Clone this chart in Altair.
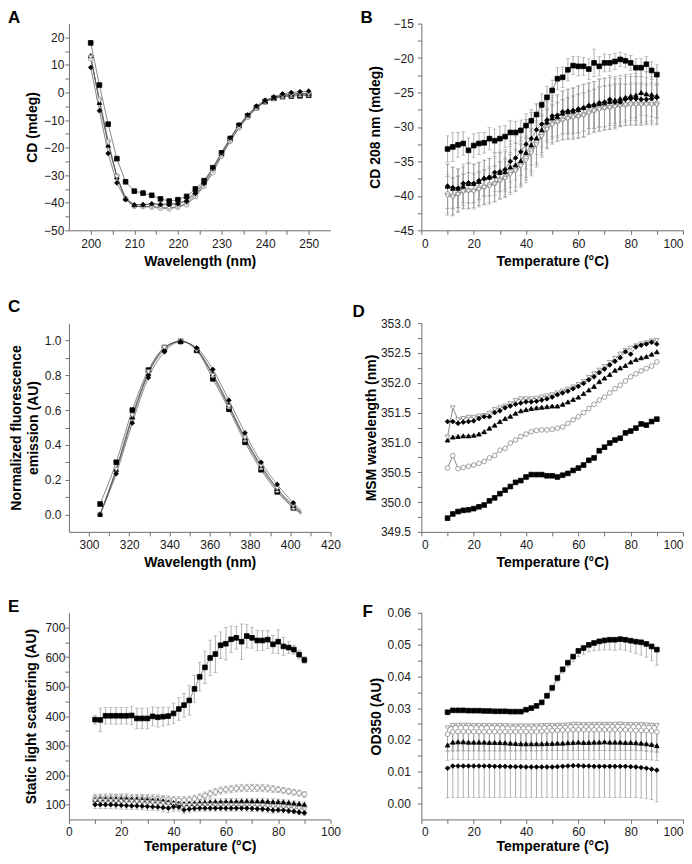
import altair as alt
import pandas as pd

FONT = "Liberation Sans"

SERIES = ["sq", "ci", "tu", "td", "di"]
SHAPES = ["square", "circle", "triangle-up", "triangle-down", "diamond"]
FILLS = ["#000000", "#ffffff", "#000000", "#ffffff", "#000000"]
STROKES = ["#000000", "#8a8a8a", "#000000", "#8a8a8a", "#000000"]
SIZES = [22, 22, 28, 28, 30]

# ---------------- Panel A : CD spectra ----------------
A_WL = [200, 202, 204, 206, 208, 210, 212, 214, 216, 218, 220, 222, 224,
        226, 228, 230, 232, 234, 236, 238, 240, 242, 244, 246, 248, 250]
A_sq = [18.0, 2.7, -11.5, -24.0, -32.4, -35.8, -36.5, -37.3, -38.6, -39.4, -38.9, -37.7, -35.0,
        -32.0, -27.3, -21.9, -16.7, -12.0, -8.5, -5.5, -3.3, -2.1, -1.5, -1.3, -1.2, -1.0]
A_ci = [12.2, -2.4, -17.7, -30.3, -38.6, -41.3, -41.4, -41.6, -42.0, -42.2, -41.6, -40.7, -37.8,
        -34.0, -29.1, -23.1, -17.7, -12.9, -9.0, -5.7, -3.3, -2.1, -1.4, -1.1, -0.8, -0.7]
A_tu = [13.4, -3.6, -19.1, -30.6, -38.3, -40.7, -40.7, -40.4, -40.4, -40.4, -40.2, -39.0, -36.0,
        -32.6, -27.5, -22.2, -16.7, -12.0, -8.2, -5.1, -3.0, -1.8, -0.9, -0.6, -0.3, -0.3]
A_td = [12.8, -3.0, -18.3, -30.6, -38.9, -41.3, -41.3, -41.4, -41.6, -41.9, -41.4, -40.2, -37.4,
        -33.6, -28.5, -22.7, -17.5, -12.7, -8.8, -5.5, -3.1, -1.8, -1.2, -0.8, -0.5, -0.5]
A_di = [9.1, -6.6, -22.1, -32.8, -38.9, -40.8, -40.7, -40.4, -40.7, -40.7, -40.4, -39.5, -36.6,
        -33.0, -27.5, -21.9, -16.5, -11.7, -8.1, -4.9, -2.8, -1.6, -0.5, 0.0, 0.3, 0.5]

# ---------------- Temperature grid (B, D, E, F) ----------------
T = [10, 12, 14, 16, 18, 20, 22, 24, 26, 28, 30, 32, 34, 36, 38, 40, 42, 44, 46, 48, 50,
     52, 54, 56, 58, 60, 62, 64, 66, 68, 70, 72, 74, 76, 78, 80, 82, 84, 86, 88, 90]

# ---------------- Panel B : CD 208 nm ----------------
B_sq = [-33.2, -32.9, -32.6, -32.4, -33.4, -32.7, -32.4, -32.3, -31.7, -32.0,
        -31.7, -31.4, -30.8, -30.8, -30.5, -29.8, -29.1, -28.2, -26.8, -25.7,
        -24.7, -23.0, -22.8, -21.7, -21.1, -21.2, -21.2, -21.6, -20.7, -21.2,
        -20.7, -20.7, -20.5, -20.2, -20.4, -20.7, -21.4, -21.4, -20.9, -21.8, -22.4]
B_ci = [-39.7, -40.0, -39.7, -39.3, -39.2, -39.2, -38.9, -38.7, -38.4, -38.2,
        -37.7, -37.3, -36.6, -36.2, -35.4, -34.5, -33.5, -32.3, -31.1, -30.2,
        -29.5, -29.2, -28.9, -28.7, -28.5, -28.4, -28.2, -27.8, -27.6, -27.3,
        -27.2, -27.1, -26.9, -26.8, -26.8, -26.6, -26.6, -26.6, -26.6, -26.5, -26.6]
B_tu = [-38.6, -38.9, -38.9, -38.6, -38.2, -38.2, -37.9, -37.4, -37.3, -37.1,
        -36.6, -36.5, -35.8, -35.5, -34.9, -33.7, -32.6, -31.6, -30.4, -29.3,
        -28.7, -28.5, -28.0, -27.8, -27.7, -27.5, -27.2, -26.9, -26.8, -26.6,
        -26.5, -26.3, -26.1, -25.9, -25.7, -25.5, -25.4, -25.0, -25.2, -25.3, -25.5]
B_td = [-40.0, -40.2, -39.8, -39.4, -39.3, -39.4, -39.1, -38.8, -38.6, -38.3,
        -37.8, -37.5, -36.9, -36.4, -35.7, -34.9, -33.8, -32.6, -31.4, -30.4,
        -29.7, -29.3, -29.0, -28.8, -28.7, -28.5, -28.3, -28.0, -27.7, -27.5,
        -27.3, -27.2, -27.1, -26.9, -26.8, -26.8, -26.8, -26.8, -26.8, -26.8, -26.8]
B_di = [-38.6, -38.8, -38.9, -38.2, -38.1, -38.2, -37.8, -37.5, -37.3, -36.6,
        -36.5, -36.2, -35.0, -34.5, -33.6, -32.5, -31.7, -30.4, -29.6, -29.0,
        -28.4, -28.3, -27.8, -27.7, -27.6, -27.4, -27.2, -26.9, -26.8, -26.5,
        -26.4, -26.0, -26.4, -26.4, -26.0, -25.9, -25.9, -26.0, -26.0, -25.9, -25.7]
B_err_sq = [1.9, 2.1, 1.8, 1.7, 1.8, 1.7, 1.6, 1.5, 1.6, 1.7,
            1.8, 1.6, 1.7, 1.6, 1.5, 1.7, 1.6, 1.6, 1.6, 1.6,
            1.5, 1.6, 1.5, 1.6, 1.3, 1.4, 1.3, 1.5, 2.0, 1.4,
            1.3, 1.2, 1.2, 1.0, 1.0, 1.1, 1.3, 1.3, 1.1, 1.3, 1.5]
B_err_filled = [3.2, 3.0, 2.8, 2.8, 2.9, 2.8, 2.7, 2.6, 2.7, 2.8,
                2.8, 2.9, 3.0, 3.2, 3.4, 3.6, 3.8, 3.6, 3.3, 3.0,
                3.0, 3.0, 3.1, 3.2, 3.3, 3.4, 3.4, 3.3, 3.4, 3.5,
                3.5, 3.5, 3.4, 3.4, 3.3, 3.2, 3.2, 3.3, 3.2, 3.2, 3.1]
B_err_open = [2.8, 2.7, 2.6, 2.5, 2.6, 2.5, 2.5, 2.5, 2.6, 2.6,
              2.7, 2.8, 2.9, 3.0, 3.1, 3.2, 3.3, 3.2, 3.0, 2.8,
              2.8, 2.8, 2.9, 3.0, 3.1, 3.2, 3.2, 3.1, 3.1, 3.2,
              3.2, 3.2, 3.2, 3.1, 3.0, 3.0, 3.0, 3.0, 2.9, 2.9, 2.9]

# ---------------- Panel C : normalized fluorescence ----------------
C_WL = [305.5, 313.5, 321.5, 329.5, 337.5, 345.5, 353.5, 361.5, 369.5, 377.5, 385.5, 393.5, 401.5]
C_sq = [0.06, 0.30, 0.60, 0.83, 0.96, 0.995, 0.943, 0.78, 0.605, 0.415, 0.257, 0.13, 0.038]
C_ci = [0.0, 0.25, 0.55, 0.81, 0.955, 0.995, 0.95, 0.80, 0.62, 0.43, 0.27, 0.14, 0.04]
C_tu = [0.0, 0.26, 0.56, 0.81, 0.95, 0.996, 0.95, 0.81, 0.63, 0.44, 0.28, 0.15, 0.05]
C_td = [0.0, 0.26, 0.57, 0.82, 0.96, 0.995, 0.945, 0.80, 0.62, 0.44, 0.28, 0.15, 0.05]
C_di = [0.0, 0.234, 0.526, 0.787, 0.935, 0.994, 0.958, 0.834, 0.657, 0.469, 0.30, 0.173, 0.067]
C_END_WL = 405.5
C_END = {"sq": 0.0, "ci": 0.008, "tu": 0.012, "td": 0.012, "di": 0.02}

# ---------------- Panel D : MSM wavelength ----------------
D_sq = [349.73, 349.80, 349.84, 349.86, 349.87, 349.89, 349.92, 349.95, 350.02, 350.07,
        350.14, 350.20, 350.26, 350.33, 350.36, 350.42, 350.46, 350.46, 350.46, 350.44,
        350.44, 350.42, 350.45, 350.48, 350.53, 350.57, 350.62, 350.70, 350.74, 350.86,
        350.92, 350.99, 351.04, 351.07, 351.16, 351.19, 351.24, 351.31, 351.29, 351.35, 351.39]
D_ci = [350.57, 350.78, 350.56, 350.58, 350.60, 350.62, 350.65, 350.68, 350.74, 350.78,
        350.87, 350.90, 350.99, 351.04, 351.10, 351.14, 351.18, 351.20, 351.21, 351.21,
        351.22, 351.24, 351.26, 351.32, 351.38, 351.43, 351.50, 351.57, 351.64, 351.71,
        351.76, 351.83, 351.90, 351.96, 352.03, 352.10, 352.15, 352.20, 352.24, 352.28, 352.35]
D_tu = [351.04, 351.09, 351.10, 351.11, 351.11, 351.12, 351.14, 351.18, 351.24, 351.29,
        351.35, 351.40, 351.44, 351.49, 351.53, 351.55, 351.57, 351.58, 351.59, 351.60,
        351.61, 351.61, 351.64, 351.68, 351.72, 351.76, 351.82, 351.88, 351.94, 352.02,
        352.08, 352.14, 352.21, 352.25, 352.29, 352.35, 352.39, 352.42, 352.44, 352.48, 352.52]
D_td = [351.09, 351.58, 351.38, 351.40, 351.42, 351.42, 351.44, 351.45, 351.49, 351.55,
        351.58, 351.61, 351.65, 351.70, 351.73, 351.73, 351.73, 351.74, 351.76, 351.78,
        351.80, 351.83, 351.86, 351.89, 351.93, 351.97, 352.02, 352.09, 352.15, 352.21,
        352.27, 352.34, 352.41, 352.48, 352.54, 352.58, 352.62, 352.65, 352.67, 352.70, 352.71]
D_di = [351.35, 351.35, 351.32, 351.34, 351.35, 351.36, 351.40, 351.43, 351.43, 351.50,
        351.53, 351.58, 351.61, 351.64, 351.66, 351.68, 351.68, 351.69, 351.71, 351.73,
        351.76, 351.80, 351.83, 351.86, 351.90, 351.94, 351.99, 352.05, 352.10, 352.17,
        352.23, 352.30, 352.36, 352.42, 352.52, 352.48, 352.60, 352.63, 352.65, 352.68, 352.65]

# ---------------- Panel E : static light scattering ----------------
E_sq = [388, 387, 401, 401, 401, 401, 401, 402, 392, 392,
        392, 399, 396, 398, 400, 409, 424, 437, 453, 492,
        533, 565, 597, 610, 640, 645, 660, 665, 652, 671,
        665, 656, 656, 659, 643, 652, 636, 632, 625, 608, 590]
E_ci = [122, 122, 122, 122, 122, 122, 122, 121, 120, 120,
        120, 120, 119, 118, 117, 116, 115, 115, 117, 120,
        125, 131, 137, 143, 148, 151, 153, 155, 156, 157,
        157, 157, 156, 155, 153, 151, 148, 145, 142, 139, 135]
E_tu = [118, 120, 120, 120, 120, 120, 120, 119, 119, 118,
        117, 116, 115, 113, 110, 107, 105, 103, 104, 105,
        107, 108, 109, 110, 110, 111, 111, 111, 112, 112,
        112, 112, 112, 111, 110, 110, 109, 107, 105, 103, 101]
E_td = [113, 113, 112, 112, 112, 111, 111, 110, 110, 109,
        108, 107, 106, 104, 102, 100, 98, 97, 97, 97,
        98, 98, 98, 98, 98, 98, 98, 98, 98, 98,
        97, 97, 96, 95, 94, 93, 92, 91, 89, 87, 85]
E_di = [100, 100, 100, 100, 99, 98, 97, 96, 96, 95,
        94, 93, 92, 90, 88, 93, 92, 82, 85, 87,
        88, 88, 88, 88, 88, 88, 88, 88, 88, 88,
        87, 86, 85, 84, 81, 82, 81, 79, 77, 74, 72]
E_err_sq = [15, 40, 28, 28, 28, 28, 28, 30, 35, 35,
            35, 32, 33, 32, 30, 35, 38, 40, 50, 45,
            48, 55, 60, 62, 45, 55, 45, 38, 60, 40,
            35, 35, 33, 30, 30, 40, 30, 20, 15, 15, 12]
E_err_ci = [14, 14, 14, 14, 14, 14, 14, 14, 14, 14,
            14, 14, 14, 13, 13, 12, 12, 12, 12, 12,
            12, 12, 12, 12, 12, 12, 12, 12, 12, 12,
            12, 12, 12, 12, 12, 10, 10, 10, 10, 10, 10]
E_err_small = [13, 13, 13, 13, 13, 13, 13, 13, 13, 13,
               13, 13, 13, 14, 15, 15, 14, 12, 11, 10,
               10, 10, 10, 10, 10, 10, 10, 10, 10, 10,
               10, 10, 10, 10, 10, 9, 9, 9, 8, 8, 8]

# ---------------- Panel F : OD350 ----------------
F_sq = [0.0287, 0.0293, 0.0293, 0.0293, 0.0292, 0.0292, 0.0292, 0.0291, 0.0291, 0.0290,
        0.0290, 0.0290, 0.0289, 0.0289, 0.0289, 0.0295, 0.0300, 0.0307, 0.0318, 0.0339,
        0.0364, 0.0395, 0.0422, 0.0443, 0.0462, 0.0480, 0.0489, 0.0499, 0.0505, 0.0510,
        0.0513, 0.0515, 0.0515, 0.0517, 0.0515, 0.0512, 0.0509, 0.0507, 0.0502, 0.0494, 0.0484]
F_ci = [0.0218, 0.0225, 0.0226, 0.0226, 0.0226, 0.0226, 0.0226, 0.0226, 0.0226, 0.0226,
        0.0226, 0.0226, 0.0226, 0.0226, 0.0226, 0.0226, 0.0226, 0.0226, 0.0227, 0.0228,
        0.0229, 0.0230, 0.0231, 0.0231, 0.0232, 0.0232, 0.0232, 0.0232, 0.0232, 0.0232,
        0.0232, 0.0232, 0.0232, 0.0232, 0.0232, 0.0231, 0.0230, 0.0230, 0.0229, 0.0228, 0.0225]
F_tu = [0.0184, 0.0193, 0.0194, 0.0194, 0.0193, 0.0193, 0.0193, 0.0193, 0.0192, 0.0192,
        0.0192, 0.0191, 0.0190, 0.0189, 0.0188, 0.0188, 0.0188, 0.0188, 0.0188, 0.0189,
        0.0189, 0.0190, 0.0190, 0.0191, 0.0192, 0.0193, 0.0192, 0.0192, 0.0193, 0.0193,
        0.0194, 0.0193, 0.0193, 0.0193, 0.0192, 0.0192, 0.0191, 0.0190, 0.0188, 0.0186, 0.0182]
F_td = [0.0238, 0.0245, 0.0246, 0.0246, 0.0246, 0.0245, 0.0245, 0.0245, 0.0245, 0.0245,
        0.0245, 0.0245, 0.0244, 0.0244, 0.0244, 0.0244, 0.0244, 0.0244, 0.0245, 0.0245,
        0.0245, 0.0246, 0.0246, 0.0247, 0.0249, 0.0249, 0.0248, 0.0248, 0.0249, 0.0249,
        0.0249, 0.0249, 0.0249, 0.0250, 0.0248, 0.0248, 0.0248, 0.0248, 0.0247, 0.0246, 0.0245]
F_di = [0.0111, 0.0118, 0.0118, 0.0118, 0.0118, 0.0118, 0.0118, 0.0118, 0.0118, 0.0117,
        0.0117, 0.0117, 0.0116, 0.0116, 0.0116, 0.0115, 0.0115, 0.0115, 0.0115, 0.0115,
        0.0115, 0.0116, 0.0117, 0.0118, 0.0119, 0.0119, 0.0118, 0.0118, 0.0117, 0.0117,
        0.0117, 0.0117, 0.0117, 0.0117, 0.0117, 0.0116, 0.0115, 0.0113, 0.0111, 0.0108, 0.0105]
F_err_sq = [0, 0, 0, 0, 0, 0, 0, 0, 0, 0,
            0, 0, 0, 0, 0, 0.0003, 0.0005, 0.0006, 0.0007, 0.0008,
            0.0010, 0.0012, 0.0012, 0.0013, 0.0015, 0.0018, 0.0020, 0.0022, 0.0025, 0.0028,
            0.0030, 0.0032, 0.0033, 0.0033, 0.0033, 0.0035, 0.0037, 0.0040, 0.0042, 0.0045, 0.0049]
F_err_ci = [0.0055, 0.0060, 0.0061, 0.0061, 0.0061, 0.0061, 0.0061, 0.0061, 0.0061, 0.0061,
            0.0061, 0.0061, 0.0061, 0.0061, 0.0061, 0.0061, 0.0061, 0.0061, 0.0061, 0.0062,
            0.0062, 0.0063, 0.0064, 0.0064, 0.0065, 0.0065, 0.0065, 0.0065, 0.0065, 0.0065,
            0.0065, 0.0065, 0.0065, 0.0065, 0.0065, 0.0064, 0.0063, 0.0063, 0.0063, 0.0063, 0.0062]
F_err_tu = [0.0048, 0.0054, 0.0055, 0.0055, 0.0054, 0.0054, 0.0054, 0.0054, 0.0053, 0.0053,
            0.0053, 0.0052, 0.0051, 0.0050, 0.0049, 0.0049, 0.0049, 0.0049, 0.0049, 0.0050,
            0.0050, 0.0051, 0.0051, 0.0052, 0.0053, 0.0054, 0.0053, 0.0053, 0.0054, 0.0054,
            0.0055, 0.0054, 0.0054, 0.0054, 0.0053, 0.0053, 0.0052, 0.0051, 0.0050, 0.0049, 0.0047]
F_err_td = [0.0072, 0.0078, 0.0079, 0.0079, 0.0079, 0.0078, 0.0078, 0.0078, 0.0078, 0.0078,
            0.0078, 0.0078, 0.0077, 0.0077, 0.0077, 0.0077, 0.0077, 0.0077, 0.0078, 0.0078,
            0.0078, 0.0079, 0.0079, 0.0080, 0.0082, 0.0082, 0.0081, 0.0081, 0.0082, 0.0082,
            0.0082, 0.0082, 0.0082, 0.0083, 0.0081, 0.0081, 0.0081, 0.0082, 0.0083, 0.0084, 0.0085]
F_err_di = [0.0093, 0.0099, 0.0099, 0.0099, 0.0099, 0.0099, 0.0099, 0.0099, 0.0099, 0.0098,
            0.0098, 0.0098, 0.0097, 0.0097, 0.0097, 0.0096, 0.0096, 0.0096, 0.0096, 0.0096,
            0.0096, 0.0097, 0.0098, 0.0099, 0.0100, 0.0100, 0.0099, 0.0099, 0.0098, 0.0098,
            0.0098, 0.0098, 0.0098, 0.0098, 0.0098, 0.0097, 0.0096, 0.0096, 0.0096, 0.0096, 0.0100]

# ---------------- tick definitions (major labelled, minor unlabelled) ----------------
TICKS = {
    "A_x": ([200, 210, 220, 230, 240, 250], [205, 215, 225, 235, 245]),
    "A_y": ([-50, -40, -30, -20, -10, 0, 10, 20], [-45, -35, -25, -15, -5, 5, 15]),
    "T_x": ([0, 20, 40, 60, 80, 100], [10, 30, 50, 70, 90]),
    "B_y": ([-45, -40, -35, -30, -25, -20, -15], [-42.5, -37.5, -32.5, -27.5, -22.5, -17.5]),
    "C_x": ([300, 320, 340, 360, 380, 400, 420], [310, 330, 350, 370, 390, 410]),
    "C_y": ([0.0, 0.2, 0.4, 0.6, 0.8, 1.0], [0.1, 0.3, 0.5, 0.7, 0.9]),
    "D_y": ([349.5, 350.0, 350.5, 351.0, 351.5, 352.0, 352.5, 353.0],
            [349.75, 350.25, 350.75, 351.25, 351.75, 352.25, 352.75]),
    "E_y": ([100, 200, 300, 400, 500, 600, 700], [150, 250, 350, 450, 550, 650]),
    "F_y": ([0.0, 0.01, 0.02, 0.03, 0.04, 0.05, 0.06],
            [0.005, 0.015, 0.025, 0.035, 0.045, 0.055]),
}

AXIS_COLOR = "#6e6e6e"
W = 262


def make_axis(title, key, fmt, label_pad, title_pad, line_h=None, flush=False):
    majors, minors = TICKS[key]
    vals = sorted(majors + minors)
    minor_js = "[" + ",".join(repr(v) for v in minors) + "]"
    kw = dict(
        title=title, values=vals, format=fmt,
        labelExpr="indexof(" + minor_js + ", datum.value) >= 0 ? '' : datum.label",
        tickSize=4,
        grid=False, labelOverlap=False, labelFlush=flush,
        domainColor=AXIS_COLOR, tickColor=AXIS_COLOR, domainWidth=1, tickWidth=1,
        labelFont=FONT, labelFontSize=12, labelColor="#1a1a1a", labelPadding=label_pad,
        titleFont=FONT, titleFontSize=14, titleFontWeight="bold", titleColor="#000000",
        titlePadding=title_pad,
    )
    if line_h is not None:
        kw["titleLineHeight"] = line_h
    return alt.Axis(**kw)


def panel(xs, ys, xdom, ydom, xaxis, yaxis, letter, ldx, ldy, height, extent,
          errs=None, err_mode="both", line_end=None, interp="linear"):
    rows = []
    for k, s in enumerate(SERIES):
        for i, (xv, yv) in enumerate(zip(xs, ys[s])):
            r = {"x": xv, "y": yv, "s": s, "k": k}
            if errs is not None:
                e = errs[s][i]
                r["lo"] = yv - e
                r["hi"] = yv + e if err_mode == "both" else yv
            rows.append(r)
    df = pd.DataFrame(rows)

    line_rows = [dict(x=r["x"], y=r["y"], s=r["s"]) for r in rows]
    if line_end is not None:
        ex, ev = line_end
        for s in SERIES:
            line_rows.append(dict(x=ex, y=ev[s], s=s))
    ldf = pd.DataFrame(line_rows)

    xsc = alt.Scale(domain=xdom, nice=False, zero=False, padding=0)
    ysc = alt.Scale(domain=ydom, nice=False, zero=False, padding=0)
    X = alt.X("x:Q", scale=xsc, axis=xaxis)

    layers = []
    layers.append(
        alt.Chart(ldf).mark_line(color="#555555", strokeWidth=0.7, interpolate=interp).encode(
            x=X, y=alt.Y("y:Q", scale=ysc, axis=yaxis), detail="s:N"))
    if errs is not None:
        layers.append(
            alt.Chart(df).mark_rule(color="#9a9a9a", strokeWidth=0.8).encode(
                x=X, y=alt.Y("lo:Q", scale=ysc, axis=yaxis), y2="hi:Q"))
        layers.append(
            alt.Chart(df).mark_tick(orient="horizontal", size=4, thickness=0.8, color="#9a9a9a").encode(
                x=X, y=alt.Y("lo:Q", scale=ysc, axis=yaxis)))
        if err_mode == "both":
            layers.append(
                alt.Chart(df).mark_tick(orient="horizontal", size=4, thickness=0.8, color="#9a9a9a").encode(
                    x=X, y=alt.Y("hi:Q", scale=ysc, axis=yaxis)))
    layers.append(
        alt.Chart(df).mark_point(opacity=1, strokeWidth=0.8).encode(
            x=X, y=alt.Y("y:Q", scale=ysc, axis=yaxis),
            shape=alt.Shape("s:N", scale=alt.Scale(domain=SERIES, range=SHAPES), legend=None),
            fill=alt.Fill("s:N", scale=alt.Scale(domain=SERIES, range=FILLS), legend=None),
            stroke=alt.Stroke("s:N", scale=alt.Scale(domain=SERIES, range=STROKES), legend=None),
            size=alt.Size("s:N", scale=alt.Scale(domain=SERIES, range=SIZES), legend=None),
        ))
    layers.append(
        alt.Chart(pd.DataFrame({"t": [letter]})).mark_text(
            align="left", baseline="alphabetic", font=FONT, fontSize=17, fontWeight="bold",
            color="#000000").encode(text="t:N", x=alt.value(ldx), y=alt.value(ldy)))
    # invisible layout frame fixing the space kept around the plot area
    el, et, er, eb = extent
    layers.append(
        alt.Chart(pd.DataFrame({"t": [0]})).mark_rule(opacity=0, strokeWidth=0).encode(
            x=alt.value(-el), y=alt.value(-et), x2=alt.value(W + er), y2=alt.value(height + eb)))
    return alt.layer(*layers).properties(width=W, height=height)


def sd(a, b, c, d, e):
    return {"sq": a, "ci": b, "tu": c, "td": d, "di": e}


WL_T = "Wavelength (nm)"
TEMP_T = "Temperature (°C)"
XLP_TOP, XTP_TOP = 4, 5   # x label / title padding, rows 1-2
XLP_BOT, XTP_BOT = 3, 2   # x label / title padding, row 3
H1, H2, H3 = 207, 209, 207

pA = panel(A_WL, sd(A_sq, A_ci, A_tu, A_td, A_di), [195, 255], [-50, 25],
           make_axis(WL_T, "A_x", "d", XLP_TOP, XTP_TOP), make_axis("CD (mdeg)", "A_y", "d", 1, 4),
           "A", -61, -1, H1, (61, 15, 12, 40))
pB = panel(T, sd(B_sq, B_ci, B_tu, B_td, B_di), [0, 100], [-45, -15],
           make_axis(TEMP_T, "T_x", "d", XLP_TOP, XTP_TOP, flush=True),
           make_axis("CD 208 nm (mdeg)", "B_y", "d", 4, 11),
           "B", -61, -1, H1, (79, 15, 0, 40),
           errs=sd(B_err_sq, B_err_open, B_err_filled, B_err_open, B_err_filled))
pC = panel(C_WL, sd(C_sq, C_ci, C_tu, C_td, C_di), [290, 420], [-0.1, 1.1],
           make_axis(WL_T, "C_x", "d", XLP_TOP, XTP_TOP),
           make_axis(["Normalized fluorescence", "emission (AU)"], "C_y", ".1f", 4, 4, 17),
           "C", -61, -11, H2, (61, 53, 12, 40), line_end=(C_END_WL, C_END), interp="monotone")
pD = panel(T, sd(D_sq, D_ci, D_tu, D_td, D_di), [0, 100], [349.5, 353.0],
           make_axis(TEMP_T, "T_x", "d", XLP_TOP, XTP_TOP, flush=True),
           make_axis("MSM wavelength (nm)", "D_y", ".1f", 7, 2),
           "D", -69, -6, H2, (79, 53, 0, 40))
pE = panel(T, sd(E_sq, E_ci, E_tu, E_td, E_di), [0, 100], [50, 750],
           make_axis(TEMP_T, "T_x", "d", XLP_BOT, XTP_BOT),
           make_axis("Static light scattering (AU)", "E_y", "d", 0, 6),
           "E", -61, -1, H3, (61, 41, 12, 35),
           errs=sd(E_err_sq, E_err_ci, E_err_small, E_err_small, E_err_small))
pF = panel(T, sd(F_sq, F_ci, F_tu, F_td, F_di), [0, 100], [-0.005, 0.06],
           make_axis(TEMP_T, "T_x", "d", XLP_BOT, XTP_BOT, flush=True),
           make_axis("OD350 (AU)", "F_y", ".2f", 7, 4),
           "F", -59, 4, H3, (79, 41, 0, 35),
           errs=sd(F_err_sq, F_err_ci, F_err_tu, F_err_td, F_err_di), err_mode="down")

chart = alt.concat(
    pA, pB, pC, pD, pE, pF, columns=2, bounds="full",
    align={"row": "each", "column": "all"},
    spacing={"row": 0, "column": 0},
).properties(
    padding={"left": 0, "top": 0, "right": 0, "bottom": 0}
).configure_view(strokeWidth=0)

chart.save("out.html", embed_options={"renderer": "svg", "actions": False})
